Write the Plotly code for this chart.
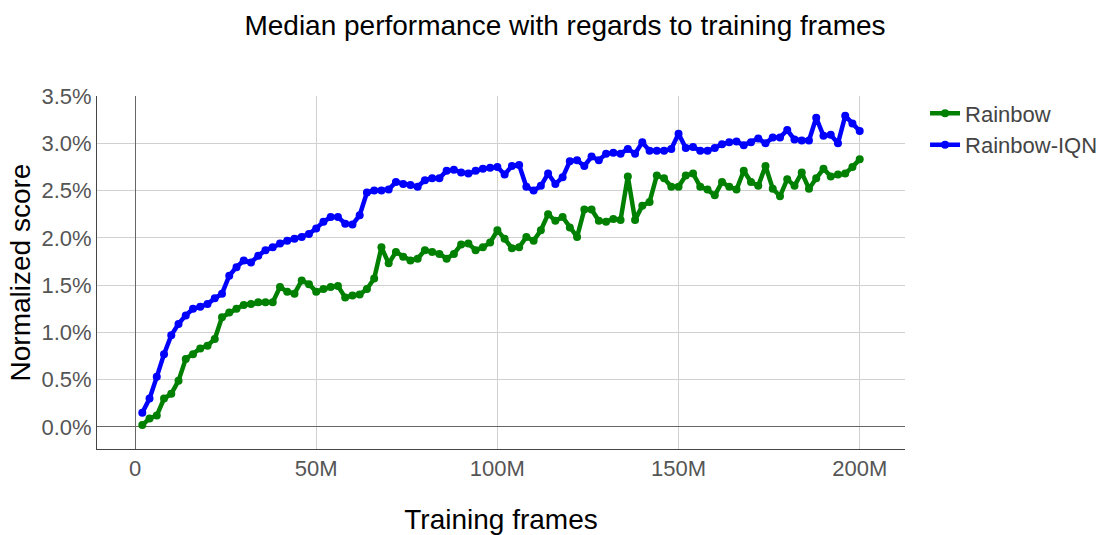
import plotly.graph_objects as go

# Training frames in millions (one checkpoint every 2M frames)
frames_m = list(range(2, 202, 2))

rainbow = [
    0.02, 0.09, 0.12, 0.30, 0.35, 0.49, 0.72, 0.77, 0.83, 0.86,
    0.93, 1.16, 1.21, 1.25, 1.29, 1.30, 1.32, 1.32, 1.32, 1.48,
    1.43, 1.41, 1.55, 1.51, 1.43, 1.46, 1.48, 1.49, 1.37, 1.39,
    1.40, 1.46, 1.57, 1.90, 1.73, 1.85, 1.80, 1.76, 1.78, 1.87,
    1.85, 1.83, 1.78, 1.83, 1.93, 1.94, 1.87, 1.90, 1.95, 2.08,
    1.99, 1.89, 1.90, 2.01, 1.97, 2.08, 2.25, 2.18, 2.22, 2.11,
    2.01, 2.30, 2.30, 2.18, 2.17, 2.20, 2.19, 2.65, 2.19, 2.34,
    2.38, 2.66, 2.63, 2.54, 2.54, 2.66, 2.68, 2.54, 2.51, 2.45,
    2.59, 2.54, 2.51, 2.71, 2.59, 2.55, 2.76, 2.52, 2.44, 2.62,
    2.55, 2.69, 2.52, 2.63, 2.73, 2.65, 2.67, 2.68, 2.75, 2.83,
]

rainbow_iqn = [
    0.15, 0.30, 0.53, 0.77, 0.97, 1.09, 1.18, 1.25, 1.27, 1.30,
    1.36, 1.41, 1.60, 1.69, 1.76, 1.74, 1.81, 1.87, 1.90, 1.94,
    1.97, 1.99, 2.01, 2.04, 2.10, 2.17, 2.22, 2.22, 2.15, 2.14,
    2.24, 2.48, 2.50, 2.50, 2.51, 2.59, 2.57, 2.56, 2.54, 2.61,
    2.63, 2.63, 2.71, 2.72, 2.69, 2.68, 2.71, 2.73, 2.74, 2.75,
    2.67, 2.76, 2.77, 2.54, 2.50, 2.55, 2.68, 2.57, 2.64, 2.81,
    2.82, 2.76, 2.86, 2.82, 2.89, 2.90, 2.89, 2.94, 2.89, 3.01,
    2.92, 2.92, 2.92, 2.94, 3.10, 2.95, 2.96, 2.92, 2.92, 2.95,
    2.99, 3.01, 3.02, 2.98, 3.01, 3.05, 3.00, 3.06, 3.06, 3.14,
    3.04, 3.03, 3.03, 3.27, 3.08, 3.09, 3.00, 3.29, 3.21, 3.13,
]

x_tick_vals_m = [0, 50, 100, 150, 200]
x_tick_text = ["0", "50M", "100M", "150M", "200M"]
y_tick_vals = [0.0, 0.5, 1.0, 1.5, 2.0, 2.5, 3.0, 3.5]
y_tick_text = ["0.0%", "0.5%", "1.0%", "1.5%", "2.0%", "2.5%", "3.0%", "3.5%"]

x_frames = [f * 1e6 for f in frames_m]

fig = go.Figure()
fig.add_trace(go.Scatter(
    x=x_frames, y=rainbow, mode="lines+markers", name="Rainbow",
    line=dict(color="green", width=4.5), marker=dict(color="green", size=8),
))
fig.add_trace(go.Scatter(
    x=x_frames, y=rainbow_iqn, mode="lines+markers", name="Rainbow-IQN",
    line=dict(color="blue", width=4.5), marker=dict(color="blue", size=8),
))

font_family = "Liberation Sans, Arial, sans-serif"
fig.update_layout(
    width=1101, height=535,
    template="none",
    paper_bgcolor="white", plot_bgcolor="white",
    font=dict(family=font_family, color="#444", size=22),
    title=dict(text="Median performance with regards to training frames",
               x=565 / 1101, xanchor="center", y=1 - 25 / 535, yanchor="middle",
               font=dict(size=28, color="black")),
    margin=dict(l=97, r=196, t=96, b=86, autoexpand=False),
    showlegend=True,
    legend=dict(x=1.0248, y=1.01, xanchor="left", yanchor="top",
                font=dict(size=22, color="#444"), bgcolor="rgba(0,0,0,0)"),
    xaxis=dict(
        title=dict(text="Training frames", font=dict(size=28, color="black"), standoff=29),
        range=[-10.5e6, 212.5e6],
        tickvals=[v * 1e6 for v in x_tick_vals_m],
        ticktext=x_tick_text,
        showgrid=True, gridcolor="#d0d0d0", gridwidth=1,
        zeroline=True, zerolinecolor="#666", zerolinewidth=1,
        showline=True, linecolor="#444", linewidth=1,
        ticks="", tickfont=dict(size=22, color="#555"),
    ),
    yaxis=dict(
        title=dict(text="Normalized score", font=dict(size=28, color="black"), standoff=2),
        range=[-0.233, 3.5],
        tickvals=y_tick_vals, ticktext=y_tick_text,
        showgrid=True, gridcolor="#d0d0d0", gridwidth=1,
        zeroline=True, zerolinecolor="#666", zerolinewidth=1,
        showline=True, linecolor="#444", linewidth=1,
        ticks="", tickfont=dict(size=22, color="#555"),
    ),
)

fig.write_html("out.html",
               config={"displayModeBar": False},
               post_script="document.body.style.margin='0';document.body.style.overflow='hidden';")
